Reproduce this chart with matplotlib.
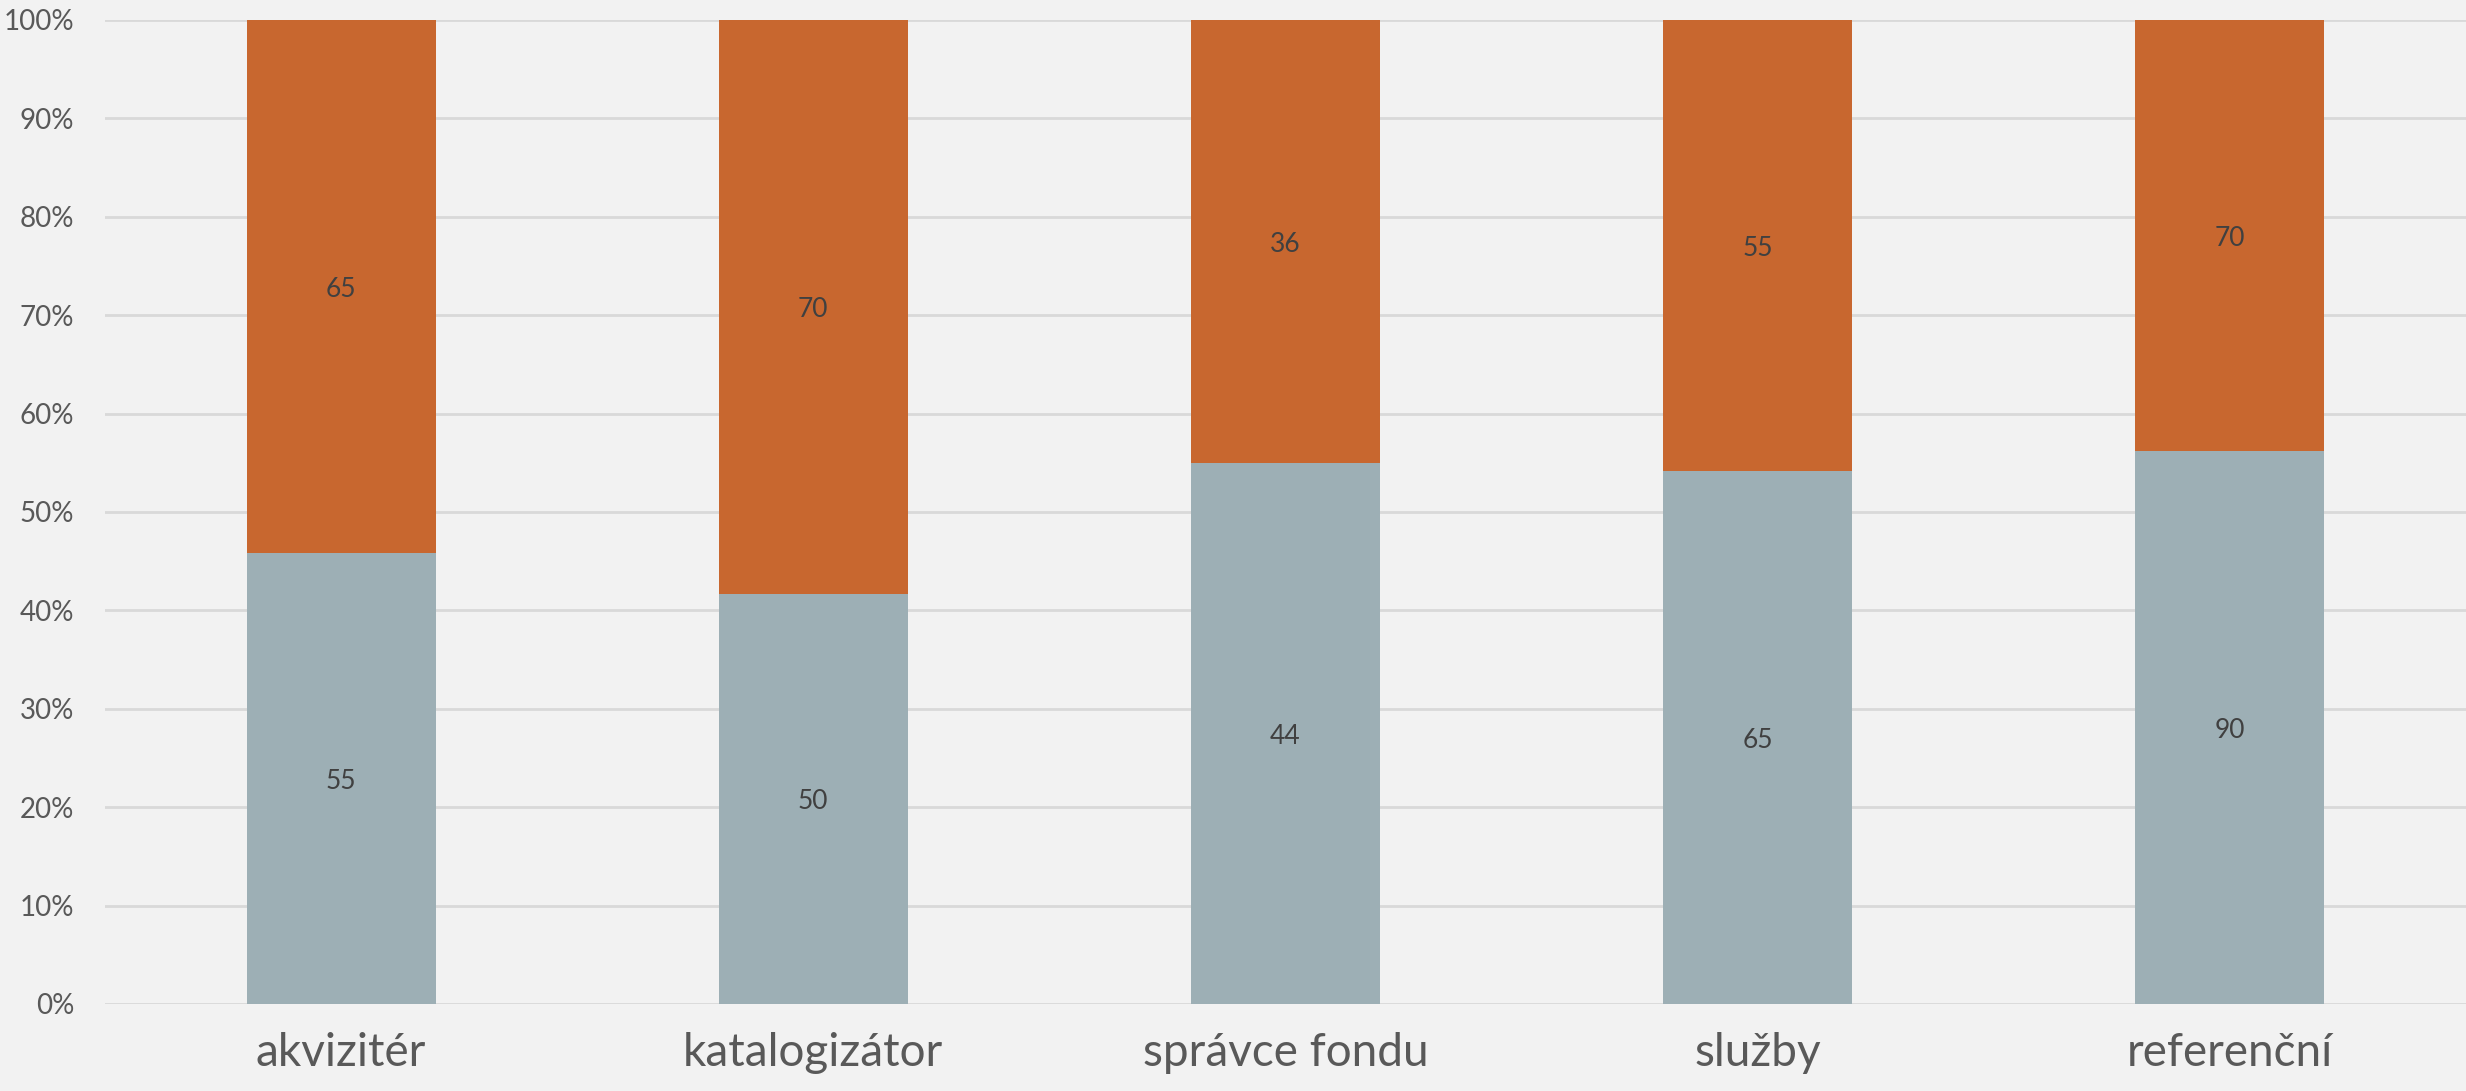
import matplotlib.pyplot as plt
from matplotlib.ticker import PercentFormatter

plt.rcParams['font.family'] = ['Lato', 'DejaVu Sans']

kategorie = ["akvizitér", "katalogizátor", "správce fondu", "služby", "referenční"]
spodni = [55, 50, 44, 65, 90]
horni = [65, 70, 36, 55, 70]

barva_spodni = "#9DAFB5"
barva_horni = "#C8672F"
barva_textu = "#595959"

fig = plt.figure(figsize=(24.66, 10.91), dpi=100, facecolor="#F2F2F2")
ax = fig.add_axes([105 / 2466, 87 / 1091, 1 - 105 / 2466, (1004 - 20) / 1091])
ax.set_facecolor("#F2F2F2")

x = list(range(len(kategorie)))
soucty = [a + b for a, b in zip(spodni, horni)]
p_spodni = [a / s * 100 for a, s in zip(spodni, soucty)]
p_horni = [b / s * 100 for b, s in zip(horni, soucty)]

ax.bar(x, p_spodni, width=0.4, color=barva_spodni, zorder=3)
ax.bar(x, p_horni, width=0.4, bottom=p_spodni, color=barva_horni, zorder=3)

# popisky hodnot uprostred segmentu (o kousek niz, jako v originale)
for i in x:
    ax.text(i, p_spodni[i] / 2 - 0.3, str(spodni[i]), ha="center", va="center",
            fontsize=19, color="#404040", zorder=4)
    ax.text(i, p_spodni[i] + p_horni[i] / 2 - 0.3, str(horni[i]), ha="center", va="center",
            fontsize=19, color="#404040", zorder=4)

ax.set_xlim(-0.5, 4.5)
ax.set_ylim(0, 100)
ax.set_yticks(range(0, 101, 10))
ax.yaxis.set_major_formatter(PercentFormatter(decimals=0))
ax.set_xticks(x)
ax.set_xticklabels(kategorie, fontsize=33, color=barva_textu)
ax.tick_params(axis="y", labelsize=20, labelcolor=barva_textu, length=0, pad=22)
ax.tick_params(axis="x", length=0, pad=20)
ax.grid(axis="y", color="#D9D9D9", linewidth=2, zorder=0)
for s in ax.spines.values():
    s.set_visible(False)

fig.savefig("out.png", facecolor=fig.get_facecolor())
